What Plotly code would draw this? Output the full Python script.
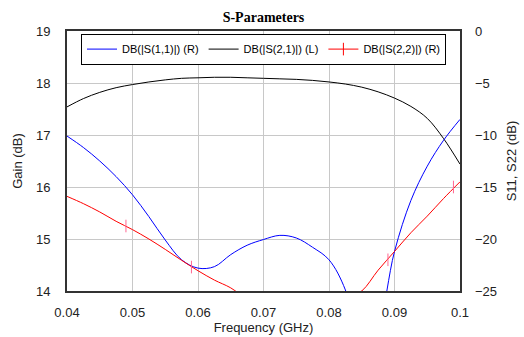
import plotly.graph_objects as go

freq = [0.04, 0.0425, 0.045, 0.0475, 0.05, 0.0525, 0.055, 0.0575, 0.06, 0.0625,
        0.065, 0.0675, 0.07, 0.0725, 0.075, 0.0775, 0.08, 0.0825, 0.085, 0.0875,
        0.09, 0.0925, 0.095, 0.0975, 0.1]

s21_gain = [17.54, 17.70, 17.82, 17.91, 17.97, 18.02, 18.06, 18.09, 18.10, 18.11,
            18.11, 18.10, 18.09, 18.08, 18.07, 18.05, 18.02, 17.98, 17.92, 17.83,
            17.71, 17.55, 17.32, 16.93, 16.44]

s11_db = [-10.1, -11.2, -12.5, -14.0, -15.75, -17.85, -20.1, -22.0, -22.8, -22.66,
          -21.5, -20.6, -20.05, -19.65, -19.9, -20.8, -22.0, -24.9, -31.0, -28.5,
          -21.2, -16.3, -13.0, -10.5, -8.5]

s22_db = [-15.9, -16.6, -17.4, -18.3, -19.1, -20.0, -21.0, -22.05, -23.05, -23.95,
          -24.7, -25.8, -26.5, -27.0, -27.3, -27.2, -26.6, -25.8, -25.0, -23.0,
          -21.2, -19.4, -17.8, -16.1, -14.5]

s22_marker_freq = [0.049, 0.059, 0.069, 0.079, 0.089, 0.099]
s22_marker_db = [-18.75, -22.7, -26.4, -27.0, -22.0, -15.0]

x_ticks = [0.04, 0.05, 0.06, 0.07, 0.08, 0.09, 0.1]
x_tick_text = ["0.04", "0.05", "0.06", "0.07", "0.08", "0.09", "0.1"]
gain_ticks = [14, 15, 16, 17, 18, 19]
s_ticks = [-25, -20, -15, -10, -5, 0]

BLUE = "#0000ff"
RED = "#ff0000"
BLACK = "#000000"

fig = go.Figure()

# Legend-only entries
fig.add_trace(go.Scatter(x=[None], y=[None], mode="lines", name="DB(|S(1,1)|) (R)",
                         line=dict(color=BLUE, width=1), yaxis="y2"))
fig.add_trace(go.Scatter(x=[None], y=[None], mode="lines", name="DB(|S(2,1)|) (L)",
                         line=dict(color=BLACK, width=1)))
fig.add_trace(go.Scatter(x=[None], y=[None], mode="lines+markers", name="DB(|S(2,2)|) (R)",
                         line=dict(color=RED, width=1), yaxis="y2",
                         marker=dict(symbol="line-ns-open", size=9,
                                     line=dict(color=RED, width=1))))

fig.add_trace(go.Scatter(x=freq, y=s21_gain, mode="lines", showlegend=False,
                         line=dict(color=BLACK, width=1, shape="spline", smoothing=1.0)))
fig.add_trace(go.Scatter(x=freq, y=s11_db, mode="lines", showlegend=False, yaxis="y2",
                         line=dict(color=BLUE, width=1, shape="spline", smoothing=1.0)))
fig.add_trace(go.Scatter(x=freq, y=s22_db, mode="lines", showlegend=False, yaxis="y2",
                         line=dict(color=RED, width=1, shape="spline", smoothing=1.0)))
fig.add_trace(go.Scatter(x=s22_marker_freq, y=s22_marker_db, mode="markers",
                         showlegend=False, yaxis="y2",
                         marker=dict(symbol="line-ns-open", size=9,
                                     line=dict(color=RED, width=1))))

font = "Liberation Sans, Arial, sans-serif"
fig.update_layout(
    width=524, height=337,
    margin=dict(l=67, r=64, t=31, b=46, autoexpand=False),
    paper_bgcolor="white", plot_bgcolor="white",
    font=dict(family=font, size=13, color="#222"),
    title=dict(text="<b>S-Parameters</b>", x=0.5, xref="paper", xanchor="center",
               y=1 - 17 / 337, yanchor="middle", automargin=False,
               font=dict(family="Liberation Serif, Times New Roman, serif", size=14, color="black")),
    showlegend=True,
    legend=dict(orientation="h", x=0.5, xanchor="center", y=0.99, yanchor="top",
                bgcolor="white", bordercolor="black", borderwidth=1,
                font=dict(family=font, size=11, color="black"),
                itemwidth=30, tracegroupgap=0),
    xaxis=dict(range=[0.04, 0.1], tickvals=x_ticks, ticktext=x_tick_text, automargin=False,
               showgrid=True, gridcolor="#c8c8c8", gridwidth=1, zeroline=False,
               showline=True, linecolor="#333", linewidth=2, mirror=True, ticks="",
               ticklabelstandoff=8,
               title=dict(text="Frequency (GHz)", standoff=2, font=dict(size=13))),
    yaxis=dict(range=[14, 19], tickvals=gain_ticks, showgrid=True, gridcolor="#c8c8c8",
               gridwidth=1, zeroline=False, showline=True, linecolor="#333", linewidth=2,
               mirror=True, ticks="", automargin=False, ticklabelstandoff=12,
               title=dict(text="Gain (dB)", standoff=10, font=dict(size=13))),
    yaxis2=dict(range=[-25, 0], tickvals=s_ticks, overlaying="y", side="right",
                showgrid=False, zeroline=False, showline=False, ticks="", automargin=False,
                ticklabelstandoff=14,
                title=dict(text="S11, S22 (dB)", standoff=10, font=dict(size=13))),
)

fig.write_html("out.html", config={"displayModeBar": False},
               post_script="document.body.style.margin='0';document.body.style.overflow='hidden';")
